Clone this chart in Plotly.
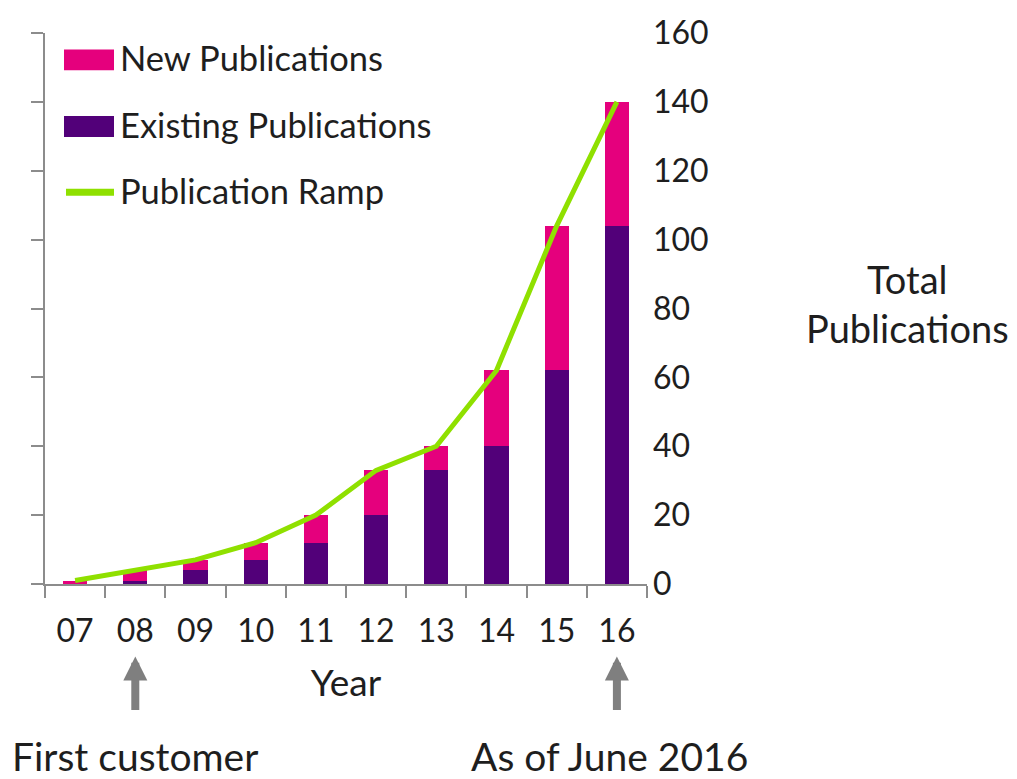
import plotly.graph_objects as go

# Publication counts per year (two-digit year labels)
years = ["07", "08", "09", "10", "11", "12", "13", "14", "15", "16"]
existing = [0, 1, 4, 7, 12, 20, 33, 40, 62, 104]
new = [1, 3, 3, 5, 8, 13, 7, 22, 42, 36]
ramp = [1, 4, 7, 12, 20, 33, 40, 62, 104, 140]
y_ticks = [0, 20, 40, 60, 80, 100, 120, 140, 160]

PINK = "#E5007D"
PURPLE = "#520079"
GREEN = "#8FE000"
GREY = "#8C8C8C"
TEXT = "#1E1E1E"
FONT = "Lato"

W, H = 1017, 779
L, R, T, B = 45, 370, 30, 195
PW, PH = W - L - R, H - T - B


def px(x):
    return (x - L) / PW


def py(y):
    return (H - B - y) / PH


fig = go.Figure()
fig.add_trace(go.Bar(x=years, y=existing, name="Existing Publications",
                     marker=dict(color=PURPLE, line=dict(width=0)), showlegend=False))
fig.add_trace(go.Bar(x=years, y=new, name="New Publications",
                     marker=dict(color=PINK, line=dict(width=0)), showlegend=False))
fig.add_trace(go.Scatter(x=years, y=ramp, name="Publication Ramp", mode="lines",
                         line=dict(color=GREEN, width=5), yaxis="y2", showlegend=False))

fig.update_layout(
    width=W, height=H,
    margin=dict(l=L, r=R, t=T, b=B, pad=0),
    paper_bgcolor="white", plot_bgcolor="white",
    barmode="stack", bargap=0.6,
    font=dict(family=FONT, color=TEXT, size=30),
    xaxis=dict(
        type="category", categoryorder="array", categoryarray=years,
        range=[-0.5, len(years) - 0.5], tickangle=0,
        showgrid=False, zeroline=False,
        showline=True, linecolor=GREY, linewidth=2,
        ticks="outside", tickson="boundaries", ticklen=12, tickcolor=GREY, tickwidth=2,
        tickfont=dict(size=32, color=TEXT), ticklabelstandoff=18,
        title=dict(text="Year", font=dict(size=37, color=TEXT), standoff=22),
    ),
    yaxis=dict(
        range=[0, 160], tickvals=y_ticks, showticklabels=False, showgrid=False,
        zeroline=False, showline=True, linecolor=GREY, linewidth=2,
        ticks="outside", ticklen=12, tickcolor=GREY, tickwidth=2,
    ),
    yaxis2=dict(
        range=[0, 160], tickvals=y_ticks, overlaying="y", side="right",
        showgrid=False, zeroline=False, showline=False, ticks="",
        tickfont=dict(size=32, color=TEXT), ticklabelstandoff=5,
    ),
)

# Legend drawn as swatches with labels
legend_items = [
    ("New Publications", "bar", PINK, 57),
    ("Existing Publications", "bar", PURPLE, 124),
    ("Publication Ramp", "line", GREEN, 190),
]
for label, kind, color, yc in legend_items:
    if kind == "bar":
        fig.add_shape(type="rect", xref="paper", yref="paper",
                      x0=px(64), x1=px(114), y0=py(yc + 10.5), y1=py(yc - 10.5),
                      fillcolor=color, line=dict(width=0))
    else:
        fig.add_shape(type="line", xref="paper", yref="paper",
                      x0=px(66), x1=px(114), y0=py(yc), y1=py(yc),
                      line=dict(color=color, width=7))
    fig.add_annotation(x=px(118), y=py(yc - 2), xref="paper", yref="paper",
                       text=label, showarrow=False, xanchor="left", yanchor="middle",
                       font=dict(size=34.5, color=TEXT))

# Right-hand axis title
fig.add_annotation(x=px(907), y=py(302), xref="paper", yref="paper",
                   text="Total<br>Publications", showarrow=False,
                   xanchor="center", yanchor="middle", align="center",
                   font=dict(size=38, color=TEXT))

# Milestone arrows (category positions) and captions
for idx, cap, cx in [(1, "First customer", 135), (9, "As of June 2016", 609)]:
    fig.add_annotation(x=idx, y=py(657), xref="x", yref="paper", text="",
                       showarrow=True, arrowhead=2, arrowsize=0.6, arrowwidth=8,
                       arrowcolor="#7F7F7F", ax=0, ay=55, standoff=0)
    fig.add_annotation(x=px(cx), y=py(757), xref="paper", yref="paper",
                       text=cap, showarrow=False, xanchor="center", yanchor="middle",
                       font=dict(size=39, color=TEXT))

fig.write_html("out.html")
